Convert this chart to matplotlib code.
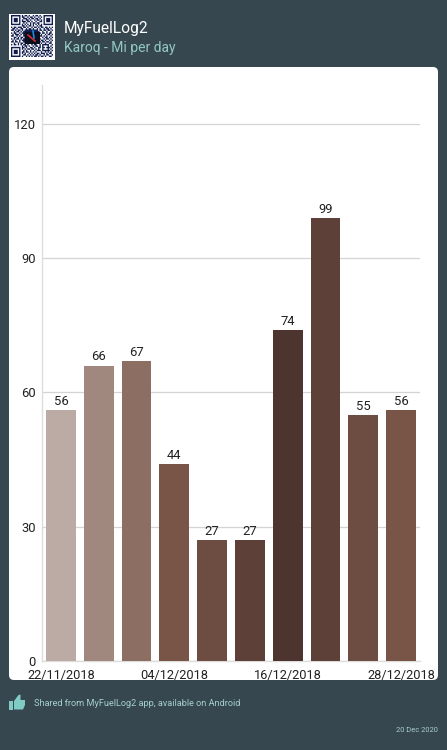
import matplotlib
matplotlib.use("Agg")
import matplotlib.pyplot as plt
import numpy as np
from matplotlib.patches import FancyBboxPatch, Polygon, Rectangle

dates = ["22/11/2018", "04/12/2018", "16/12/2018", "28/12/2018"]
tick_slots = [0, 3, 6, 9]
miles = [56, 66, 67, 44, 27, 27, 74, 99, 55, 56]
bar_colors = ["#bcaaa4", "#a1887f", "#8d6e63", "#795548", "#6d4c41",
              "#5d4037", "#4e342e", "#5d4037", "#6d4c41", "#795548"]
y_ticks = [0, 30, 60, 90, 120]

# Square modules of the share code, one row per string
qr_rows = [
    "1111111010110100101101001111111",
    "1000001011001011010010101000001",
    "1011101001110101101101001011101",
    "1011101010011010010110101011101",
    "1011101011101101001001101011101",
    "1000001001010010110110001000001",
    "1111111010101010101010101111111",
    "0000000011010110100101100000000",
    "1011011101101001011010110110101",
    "0110100110010110100101001011010",
    "1101011010111111111101101101101",
    "0010110101111111111110010010010",
    "1011001011111111111101011010110",
    "0101110101111111111110100101101",
    "1100101001111111111101101010010",
    "0011010110111111111100010110101",
    "1010110101111111111111001011010",
    "0101001011111111111100110100101",
    "1101101001111111111101011011010",
    "0010010110111111111110100100110",
    "1011010101101001011001011111001",
    "0000000010110100101101010001010",
    "1111111011010011010011011011101",
    "1000001010101101101010010001010",
    "1011101001010010010111011111101",
    "1011101011011010101000100101010",
    "1011101010100101010110111010110",
    "1000001001101010101101001011001",
    "1111111010010101011010110100110",
]

BG = "#37474f"
W, H = 447, 750

plt.rcParams["font.family"] = "Roboto"
fig = plt.figure(figsize=(W / 100, H / 100), dpi=100, facecolor=BG)

# Full-figure layer addressed in pixels for the page furniture
page = fig.add_axes([0, 0, 1, 1], zorder=0)
page.set_xlim(0, W)
page.set_ylim(H, 0)
page.axis("off")

page.add_patch(FancyBboxPatch((12, 70), 423, 607,
                              boxstyle="round,pad=3,rounding_size=5",
                              fc="white", ec="none"))

# Share code
page.add_patch(Rectangle((8.5, 13.5), 46.5, 46.5, fc="white", ec="none"))
qr = np.array([[int(c) for c in row] for row in qr_rows], dtype=float)
rgb = np.ones(qr.shape + (3,))
rgb[qr == 1] = matplotlib.colors.to_rgb("#0f1c4d")
page.imshow(rgb, extent=(11, 52.5, 57.5, 16), interpolation="antialiased",
            aspect="auto", zorder=2)
page.add_patch(Rectangle((25, 32), 15, 12, fc="#0b0f1e", ec="none", zorder=3))
page.plot([28, 35], [35, 41], color="#d32f2f", lw=1.2, zorder=4)
page.plot([33, 34], [31, 38], color="#1e88e5", lw=1.2, zorder=4)
page.set_xlim(0, W)
page.set_ylim(H, 0)

page.text(64, 29, "MyFuelLog2", color="white", fontsize=11.2, va="center")
page.text(64, 48, "Karoq - Mi per day", color="#92c9c4", fontsize=10, va="center")

# Thumbs-up badge
page.add_patch(Rectangle((9, 701), 3.5, 8.5, fc="#80cbc4", ec="none"))
page.add_patch(Polygon([(14, 701), (18.5, 695), (20.5, 694.5), (20.5, 700),
                        (25, 700), (25, 705), (23, 709.5), (14, 709.5)],
                       closed=True, fc="#80cbc4", ec="none", joinstyle="round"))
page.text(34, 703, "Shared from MyFuelLog2 app, available on Android",
          color="#a5d0cb", fontsize=6.55, va="center")
page.text(438, 730.5, "20 Dec 2020", color="#a5d0cb", fontsize=5.4,
          va="center", ha="right")

# Bar chart: the axes spans 42-420 px across and 85-661 px down
ax = fig.add_axes([42 / W, 1 - 661 / H, (420 - 42) / W, (661 - 85) / H],
                  zorder=1, facecolor="none")
slots = np.arange(len(miles))
ax.set_xlim(-0.5, 9.5)
ax.set_ylim(0, 128.7)
ax.bar(slots, miles, width=0.79, color=bar_colors, zorder=3)
for x, v in zip(slots, miles):
    ax.text(x, v + 0.5, str(v), ha="center", va="bottom", fontsize=9.4,
            color="#212121", zorder=4)

ax.set_yticks(y_ticks)
ax.set_yticklabels([str(t) for t in y_ticks], fontsize=9.4, color="#212121")
ax.tick_params(axis="y", length=0, pad=4.6)
ax.grid(axis="y", color="#d4d4d4", lw=0.9, zorder=0)
ax.set_axisbelow(True)
for side in ("top", "right"):
    ax.spines[side].set_visible(False)
for side in ("left", "bottom"):
    ax.spines[side].set_color("#dddddd")
    ax.spines[side].set_linewidth(1.0)

ax.set_xticks(slots[tick_slots])
ax.set_xticklabels(dates, fontsize=9.2, color="#212121")
ax.tick_params(axis="x", length=0, pad=5.5)

fig.savefig("out.png", dpi=100, facecolor=BG)
